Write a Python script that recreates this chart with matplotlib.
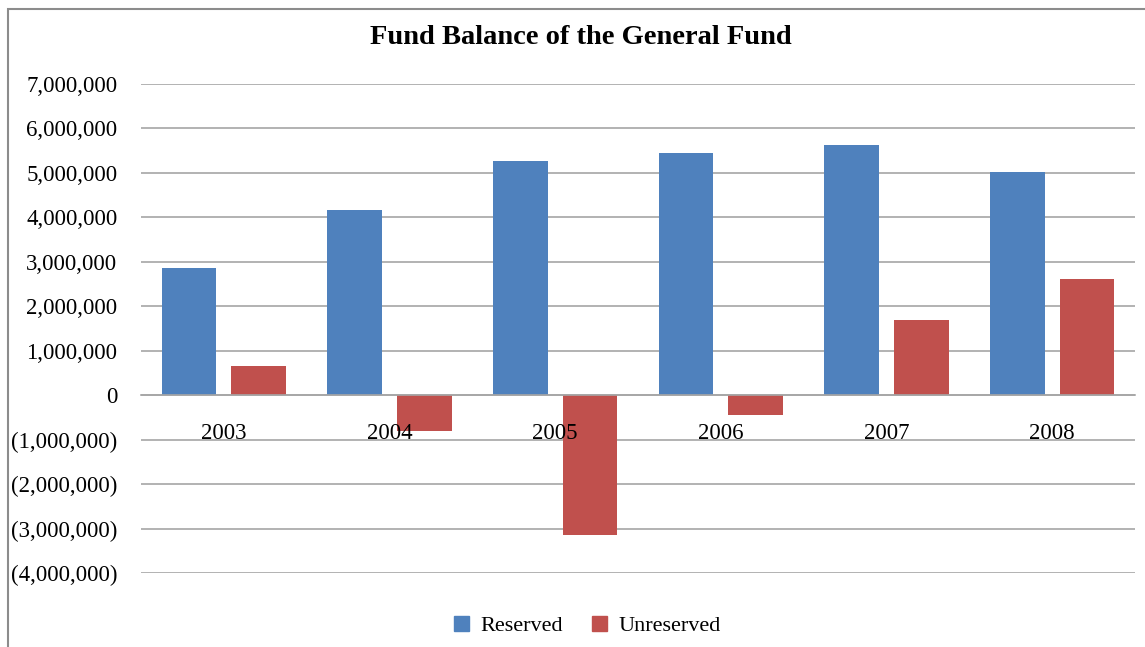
import matplotlib.pyplot as plt
import matplotlib.patches as mpatches
import numpy as np

years = ["2003", "2004", "2005", "2006", "2007", "2008"]
reserved = [2860000, 4170000, 5270000, 5450000, 5620000, 5030000]
unreserved = [650000, -810000, -3140000, -440000, 1690000, 2620000]
yticks = [-4000000, -3000000, -2000000, -1000000, 0, 1000000, 2000000,
          3000000, 4000000, 5000000, 6000000, 7000000]


def fmt(v):
    if v < 0:
        return "({:,})".format(-v)
    return "{:,}".format(v)


plt.rcParams["font.family"] = ["Liberation Serif", "DejaVu Serif"]

fig = plt.figure(figsize=(11.45, 6.47), dpi=100)
ax = fig.add_axes([141 / 1145, 1 - 573 / 647, 994 / 1145, 489 / 647])

x = np.arange(len(years))
w = 0.33
gap = 0.09
# gridlines behind the bars, year labels on top of them
for v in yticks:
    ax.axhline(v, color="#A6A6A6", linewidth=1.2, zorder=0)
ax.bar(x - (w + gap) / 2, reserved, w, color="#4F81BD", label="Reserved", zorder=1)
ax.bar(x + (w + gap) / 2, unreserved, w, color="#C0504D", label="Unreserved", zorder=1)

for s in ["top", "right", "left"]:
    ax.spines[s].set_visible(False)
ax.spines["bottom"].set_position(("data", 0))
ax.spines["bottom"].set_color("#A6A6A6")
ax.spines["bottom"].set_linewidth(1.2)

ax.set_xlim(-0.5, len(years) - 0.5)
ax.set_ylim(-4000000, 7000000)
ax.set_yticks(yticks)
ax.set_yticklabels([fmt(v) for v in yticks], fontsize=16.5)
ax.set_xticks(x)
ax.set_xticklabels(years, fontsize=16.5)
ax.tick_params(axis="both", length=0)
ax.tick_params(axis="y", pad=17)
ax.tick_params(axis="x", pad=20)

fig.text(581 / 1145, 1 - 38 / 647, "Fund Balance of the General Fund",
         ha="center", va="center", fontsize=20.5, fontweight="bold")

handles = [mpatches.Patch(color="#4F81BD", label="Reserved"),
           mpatches.Patch(color="#C0504D", label="Unreserved")]
fig.legend(handles=handles, loc="center", bbox_to_anchor=(587 / 1145, 1 - 626 / 647),
           ncol=2, frameon=False, fontsize=16, handlelength=0.7, handleheight=0.7,
           handletextpad=0.5, columnspacing=1.3)

border = mpatches.Rectangle((8 / 1145, -0.2), 1.5, 1.2 - 9 / 647, transform=fig.transFigure,
                            fill=False, edgecolor="#8C8C8C", linewidth=1.5)
fig.patches.append(border)

fig.savefig("out.png", dpi=100)
